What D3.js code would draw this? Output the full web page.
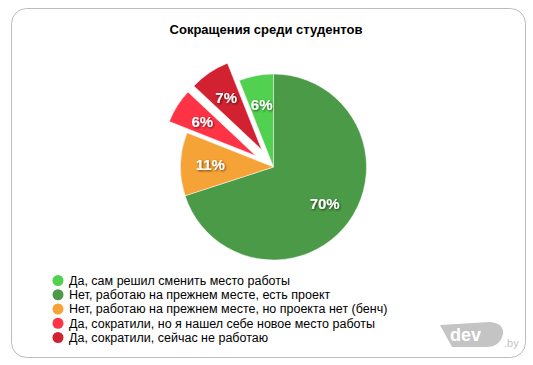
<!DOCTYPE html>
<html><head><meta charset="utf-8">
<script src="https://cdn.jsdelivr.net/npm/d3@7/dist/d3.min.js"></script>
<style>
body{margin:0;background:#fff;}
svg{display:block;font-family:"Liberation Sans",Arial,Helvetica,sans-serif;}
</style></head>
<body>
<svg id="chart" width="533" height="365"></svg>
<script>
const title = "Сокращения среди студентов";
const categories = [
  "Да, сам решил сменить место работы",
  "Нет, работаю на прежнем месте, есть проект",
  "Нет, работаю на прежнем месте, но проекта нет (бенч)",
  "Да, сократили, но я нашел себе новое место работы",
  "Да, сократили, сейчас не работаю"
];
const values = [6, 70, 11, 6, 7];
const sliced = [false, false, false, true, true];
const colors = ["#52d04f", "#4a9a47", "#f5a236", "#fe3446", "#d22130"];

const svg = d3.select("#chart");
const defs = svg.append("defs");
const f = defs.append("filter").attr("id","ts").attr("x","-20%").attr("y","-20%").attr("width","140%").attr("height","140%");
f.append("feDropShadow").attr("dx",1).attr("dy",1).attr("stdDeviation",1).attr("flood-color","#000").attr("flood-opacity",0.6);

svg.append("rect").attr("x",11.5).attr("y",8.5).attr("width",514).attr("height",349)
  .attr("rx",15).attr("ry",15).attr("fill","#fff").attr("stroke","#bdbdbd").attr("stroke-width",1);

svg.append("text").attr("x",266).attr("y",34).attr("text-anchor","middle")
  .attr("font-size",13).attr("font-weight","bold").attr("fill","#000").text(title);

const cx = 273.5, cy = 167, R = 93, offset = 21;
const total = d3.sum(values);
const startOffset = -values[0] / total * 2 * Math.PI;
const pie = d3.pie().sort(null).value(d => d)
  .startAngle(startOffset).endAngle(startOffset + 2 * Math.PI);
const arcs = pie(values);
const arc = d3.arc().innerRadius(0).outerRadius(R);
const labelArc = d3.arc().innerRadius(R * 0.68).outerRadius(R * 0.68);

const g = svg.append("g").attr("transform", `translate(${cx},${cy})`);
const slices = g.selectAll("g.slice").data(arcs).enter().append("g").attr("class","slice")
  .attr("transform", (d, i) => {
    if (!sliced[i]) return null;
    const a = (d.startAngle + d.endAngle) / 2;
    return `translate(${Math.sin(a) * offset},${-Math.cos(a) * offset})`;
  });
slices.append("path").attr("d", arc).attr("fill", (d, i) => colors[i])
  .attr("stroke","#fff").attr("stroke-width",0.5);
slices.append("text")
  .attr("transform", d => `translate(${labelArc.centroid(d)})`)
  .attr("text-anchor","middle").attr("dy","0.35em")
  .attr("font-size",15).attr("font-weight","bold").attr("fill","#fff")
  .attr("filter","url(#ts)")
  .text(d => Math.round(d.value / total * 100) + "%");

const lg = svg.append("g");
const rowY = d3.scalePoint().domain(d3.range(categories.length)).range([280.5, 337.5]);
categories.forEach((c, i) => {
  lg.append("circle").attr("cx",58).attr("cy",rowY(i)).attr("r",5.5).attr("fill",colors[i]);
  lg.append("text").attr("x",69).attr("y",rowY(i)).attr("dy","0.35em")
    .attr("font-size",12.5).attr("fill","#000").text(c);
});

// logo
const logo = svg.append("g").attr("transform","translate(440,322)");
logo.append("path").attr("d","M0,3 L50,0 Q64,1 63,12 Q60,25 46,25 L12,25 Z").attr("fill","#c4c4c4");
logo.append("text").attr("x",10).attr("y",19).attr("font-size",18).attr("font-weight","bold").attr("fill","#fff").text("dev");
logo.append("text").attr("x",64).attr("y",25).attr("font-size",11).attr("fill","#c4c4c4").text(".by");
</script>
</body></html>
